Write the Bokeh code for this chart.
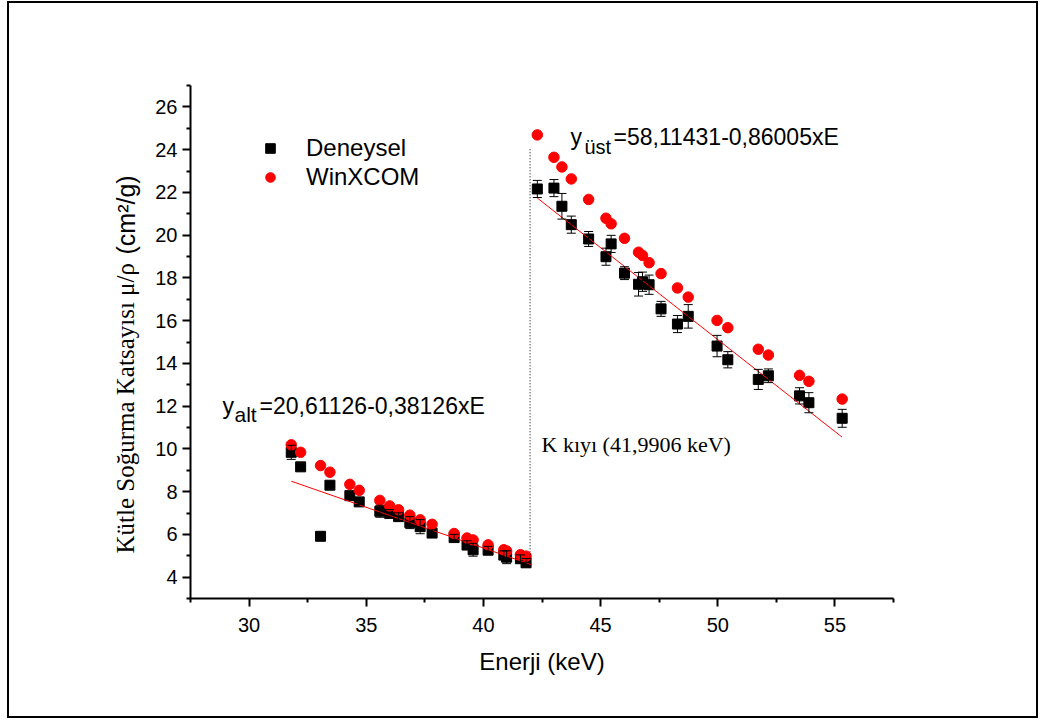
import math
from bokeh.plotting import figure
from bokeh.layouts import row
from bokeh.models import (ColumnDataSource, Whisker, TeeHead, Label, FixedTicker,
                          Range1d, Legend, LegendItem)
from bokeh.core.properties import value
from bokeh.embed import file_html
from bokeh.resources import INLINE

# ---------------- data ----------------
energy_low = [31.80, 32.20, 33.05, 33.45, 34.30, 34.70, 35.58, 36.00, 36.38, 36.86,
              37.30, 37.81, 38.75, 39.30, 39.56, 40.20, 40.87, 40.99, 41.58, 41.82]
deneysel_low = [9.84, 9.16, 5.91, 8.30, 7.81, 7.52, 7.08, 6.98, 6.83, 6.55,
                6.36, 6.06, 5.85, 5.50, 5.28, 5.26, 5.03, 4.93, 4.86, 4.67]
error_low = [0.33, 0.10, 0.10, 0.10, 0.12, 0.12, 0.28, 0.18, 0.18, 0.28,
             0.33, 0.15, 0.15, 0.20, 0.30, 0.18, 0.20, 0.30, 0.18, 0.20]
winxcom_low = [10.19, 9.84, 9.22, 8.91, 8.34, 8.06, 7.59, 7.33, 7.15, 6.90,
               6.68, 6.47, 6.04, 5.83, 5.74, 5.51, 5.28, 5.22, 5.05, 4.98]

energy_high = [42.30, 43.01, 43.35, 43.75, 44.49, 45.23, 45.45, 46.02, 46.62, 46.79,
               47.07, 47.58, 48.28, 48.74, 49.97, 50.43, 51.73, 52.16, 53.49, 53.89, 55.31]
deneysel_high = [22.16, 22.20, 21.35, 20.49, 19.82, 18.99, 19.59, 18.22, 17.70, 17.82,
                 17.68, 16.55, 15.84, 16.20, 14.81, 14.17, 13.25, 13.42, 12.48, 12.16, 11.43]
error_high = [0.40, 0.40, 0.60, 0.40, 0.35, 0.40, 0.40, 0.30, 0.55, 0.45,
              0.45, 0.35, 0.40, 0.55, 0.50, 0.38, 0.47, 0.32, 0.38, 0.47, 0.42]
winxcom_high = [24.69, 23.64, 23.19, 22.63, 21.67, 20.79, 20.53, 19.85, 19.20, 19.05,
                18.71, 18.20, 17.53, 17.10, 16.01, 15.67, 14.66, 14.39, 13.44, 13.16, 12.33]

fit_low_coef = [20.61126, -0.38126]     # y_alt = a + b*E
fit_high_coef = [58.11431, -0.86005]    # y_ust = a + b*E
fit_low_span = [31.80, 42.05]
fit_high_span = [42.30, 55.30]
k_edge_energy = 41.9906
k_edge_span = [4.6, 24.05]

x_ticks = [30, 35, 40, 45, 50, 55]
x_minor = [27.5, 32.5, 37.5, 42.5, 47.5, 52.5, 57.5]
y_ticks = [4, 6, 8, 10, 12, 14, 16, 18, 20, 22, 24, 26]
y_minor = [3, 5, 7, 9, 11, 13, 15, 17, 19, 21, 23, 25, 27]

legend_labels = ["Deneysel", "WinXCOM"]
eq_low_text = ["y", "alt", "=20,61126-0,38126xE"]
eq_high_text = ["y", "üst", "=58,11431-0,86005xE"]
k_edge_text = "K kıyı (41,9906 keV)"
ylabel_serif = "Kütle Soğurma Katsayısı μ/ρ"
ylabel_sans = "(cm²/g)"
xlabel = "Enerji (keV)"

SANS = "Liberation Sans"
SERIF = "Liberation Serif"

# ---------------- page geometry (page pixels) ----------------
OX, OY = 7, 1                 # top-left of the boxed picture
TOT_W, TOT_H = 1031, 717      # boxed picture size
LAB_W = 140                   # width of the strip holding the y title
L, R, T, B = 190, 893, 85, 598  # plot frame in page pixels
X0, X1 = 27.5, 57.5
Y0, Y1 = 3.0, 27.0


def px2x(px):
    return X0 + (px - L) / (R - L) * (X1 - X0)


def py2y(py):
    return Y0 + (B - py) / (B - T) * (Y1 - Y0)


# ---------------- strip with the y-axis title ----------------
lab = figure(width=LAB_W, height=TOT_H, x_range=Range1d(0, LAB_W), y_range=Range1d(Y0, Y1),
             x_axis_type=None, y_axis_type=None, output_backend="svg", toolbar_location=None,
             min_border_left=0, min_border_right=0,
             min_border_top=T - OY, min_border_bottom=(OY + TOT_H) - B)
lab.outline_line_color = None
lab.grid.visible = False
lab.border_fill_alpha = 0
lab.background_fill_alpha = 0
serif_len = 292
lab.text(x=[125 - OX], y=[py2y(553)], text=[ylabel_serif], angle=math.pi / 2,
         text_align="left", text_baseline="middle", text_font=value(SERIF),
         text_font_size="25px", text_color="black")
lab.text(x=[125 - OX], y=[py2y(553 - serif_len - 7)], text=[ylabel_sans], angle=math.pi / 2,
         text_align="left", text_baseline="middle", text_font=value(SANS),
         text_font_size="25px", text_color="black")

# ---------------- main plot ----------------
PW = TOT_W - LAB_W
p = figure(width=PW, height=TOT_H, x_range=Range1d(X0, X1), y_range=Range1d(Y0, Y1),
           output_backend="svg", toolbar_location=None,
           min_border_left=L - OX - LAB_W, min_border_right=(OX + TOT_W) - R,
           min_border_top=T - OY, min_border_bottom=(OY + TOT_H) - B)
p.outline_line_color = None
p.xgrid.visible = False
p.ygrid.visible = False
p.background_fill_color = "white"
p.border_fill_alpha = 0

for ax in (p.xaxis[0], p.yaxis[0]):
    ax.axis_line_width = 2
    ax.axis_line_color = "black"
    ax.major_tick_line_width = 2
    ax.minor_tick_line_width = 2
    ax.major_tick_out = 8
    ax.major_tick_in = 0
    ax.minor_tick_out = 4
    ax.minor_tick_in = 0
    ax.major_label_text_font = SANS
    ax.major_label_text_font_size = "20px"
    ax.major_label_text_color = "black"

p.xaxis.ticker = FixedTicker(ticks=x_ticks, minor_ticks=x_minor)
p.yaxis.ticker = FixedTicker(ticks=y_ticks, minor_ticks=y_minor)
p.xaxis.major_label_standoff = 11
p.yaxis.major_label_standoff = 5
p.xaxis.axis_label = xlabel
p.xaxis.axis_label_text_font = SANS
p.xaxis.axis_label_text_font_size = "24px"
p.xaxis.axis_label_text_font_style = "normal"
p.xaxis.axis_label_text_color = "black"
p.xaxis.axis_label_standoff = 13

src_low = ColumnDataSource(dict(
    e=energy_low, d=deneysel_low, w=winxcom_low,
    up=[v + s for v, s in zip(deneysel_low, error_low)],
    lo=[v - s for v, s in zip(deneysel_low, error_low)]))
src_high = ColumnDataSource(dict(
    e=energy_high, d=deneysel_high, w=winxcom_high,
    up=[v + s for v, s in zip(deneysel_high, error_high)],
    lo=[v - s for v, s in zip(deneysel_high, error_high)]))

sq_low = p.scatter("e", "d", source=src_low, marker="square", size=10,
                   fill_color="black", line_color="black")
sq_high = p.scatter("e", "d", source=src_high, marker="square", size=10,
                    fill_color="black", line_color="black")
ci_low = p.scatter("e", "w", source=src_low, marker="circle", size=10.5,
                   fill_color="#ff0000", line_color="#ff0000")
ci_high = p.scatter("e", "w", source=src_high, marker="circle", size=10.5,
                    fill_color="#ff0000", line_color="#ff0000")

for src in (src_low, src_high):
    wh = Whisker(base="e", upper="up", lower="lo", source=src,
                 line_color="black", line_width=1, level="glyph",
                 upper_head=TeeHead(size=9, line_color="black", line_width=1),
                 lower_head=TeeHead(size=9, line_color="black", line_width=1))
    p.add_layout(wh)

fy_low = [fit_low_coef[0] + fit_low_coef[1] * e for e in fit_low_span]
fy_high = [fit_high_coef[0] + fit_high_coef[1] * e for e in fit_high_span]
p.line(fit_low_span, fy_low, line_color="#ff0000", line_width=1)
p.line(fit_high_span, fy_high, line_color="#ff0000", line_width=1)

p.line([k_edge_energy, k_edge_energy], k_edge_span, line_color="black",
       line_width=1, line_dash="1 2")

legend = Legend(items=[LegendItem(label=legend_labels[0], renderers=[sq_low]),
                       LegendItem(label=legend_labels[1], renderers=[ci_low])],
                location="top_left", margin=49, padding=0,
                glyph_width=62, glyph_height=24, label_height=24,
                spacing=1, label_standoff=5,
                border_line_color=None, background_fill_alpha=0,
                label_text_font=SANS, label_text_font_size="24px",
                label_text_color="black")
p.add_layout(legend)


def add_label(px, py, text, font, size):
    p.add_layout(Label(x=px2x(px), y=py2y(py), text=text, text_font=font,
                       text_font_size=size, text_align="left",
                       text_baseline="alphabetic", text_color="black"))


add_label(570, 136, eq_high_text[0], SANS, "23px")
add_label(584, 146, eq_high_text[1], SANS, "20px")
add_label(613, 136, eq_high_text[2], SANS, "23px")
add_label(222, 405, eq_low_text[0], SANS, "23px")
add_label(234, 414, eq_low_text[1], SANS, "21px")
add_label(259, 405, eq_low_text[2], SANS, "23px")
add_label(541, 444, k_edge_text, SERIF, "22px")

layout = row(lab, p)
layout.margin = (OY, 0, 0, OX)
layout.styles = {"outline": "2px solid black", "outline-offset": "-2px",
                 "background-color": "white"}

open("out.html", "w").write(file_html(layout, INLINE))
